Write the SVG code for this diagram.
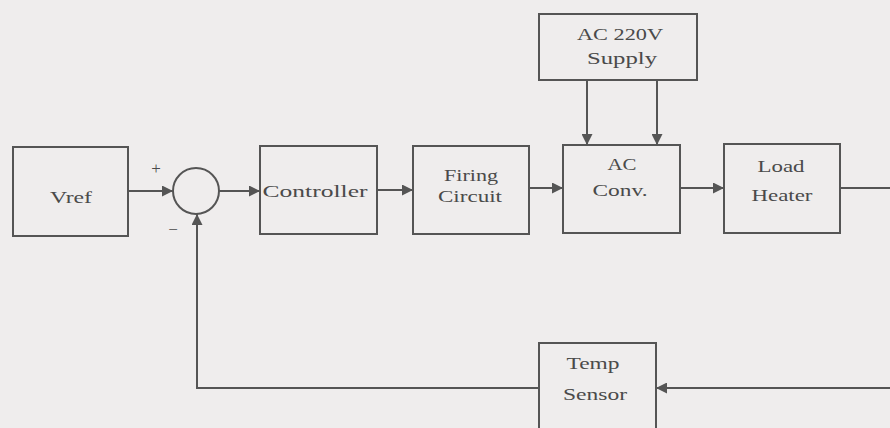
<svg xmlns="http://www.w3.org/2000/svg" width="890" height="428" viewBox="0 0 890 428">
<style>
.b{fill:none;stroke:#555;stroke-width:2}
.c{fill:none;stroke:#555;stroke-width:2}
text{font-family:"Liberation Serif","DejaVu Serif",serif;font-size:17px;fill:#4a4a4a;text-anchor:middle}
</style>
<defs>
<marker id="a" viewBox="0 0 10 10" refX="10" refY="5" markerWidth="5.5" markerHeight="5.5" orient="auto" markerUnits="strokeWidth">
<path d="M0,0 L10,5 L0,10 z" fill="#555"/>
</marker>
</defs>
<rect width="890" height="428" fill="#efeded"/>
<g id="vref"><rect class="b" x="13" y="147" width="115" height="89"/><text x="71" y="203" textLength="42" lengthAdjust="spacingAndGlyphs">Vref</text></g>
<g id="sum"><circle class="b" cx="196" cy="191" r="23"/><text x="156" y="174" font-size="15">+</text><text x="173" y="235" font-size="24">−</text></g>
<g id="controller"><rect class="b" x="260" y="146" width="117" height="88"/><text x="315" y="197" textLength="105" lengthAdjust="spacingAndGlyphs">Controller</text></g>
<g id="firing"><rect class="b" x="413" y="146" width="116" height="88"/><text x="471" y="181" textLength="54" lengthAdjust="spacingAndGlyphs">Firing</text><text x="470" y="202" textLength="64" lengthAdjust="spacingAndGlyphs">Circuit</text></g>
<g id="supply"><rect class="b" x="539" y="14" width="158" height="66"/><text x="620" y="40" textLength="86" lengthAdjust="spacingAndGlyphs">AC 220V</text><text x="622" y="64" textLength="70" lengthAdjust="spacingAndGlyphs">Supply</text></g>
<g id="acconv"><rect class="b" x="563" y="145" width="117" height="88"/><text x="622" y="170" textLength="29" lengthAdjust="spacingAndGlyphs">AC</text><text x="620" y="196" textLength="55" lengthAdjust="spacingAndGlyphs">Conv.</text></g>
<g id="load"><rect class="b" x="724" y="144" width="116" height="89"/><text x="781" y="172" textLength="47" lengthAdjust="spacingAndGlyphs">Load</text><text x="782" y="201" textLength="61" lengthAdjust="spacingAndGlyphs">Heater</text></g>
<g id="sensor"><rect class="b" x="539" y="343" width="117" height="90"/><text x="593" y="369" textLength="53" lengthAdjust="spacingAndGlyphs">Temp</text><text x="595" y="400" textLength="64" lengthAdjust="spacingAndGlyphs">Sensor</text></g>
<g id="connectors">
<path class="c" d="M128,191 H173" marker-end="url(#a)"/>
<path class="c" d="M219,191 H260" marker-end="url(#a)"/>
<path class="c" d="M377,190 H413" marker-end="url(#a)"/>
<path class="c" d="M529,188 H563" marker-end="url(#a)"/>
<path class="c" d="M587,80 V145" marker-end="url(#a)"/>
<path class="c" d="M657,80 V145" marker-end="url(#a)"/>
<path class="c" d="M680,188 H724" marker-end="url(#a)"/>
<path class="c" d="M840,188 H890"/>
<path class="c" d="M890,388 H656" marker-end="url(#a)"/>
<path class="c" d="M539,388 H197 V214" marker-end="url(#a)"/>
</g>
</svg>
